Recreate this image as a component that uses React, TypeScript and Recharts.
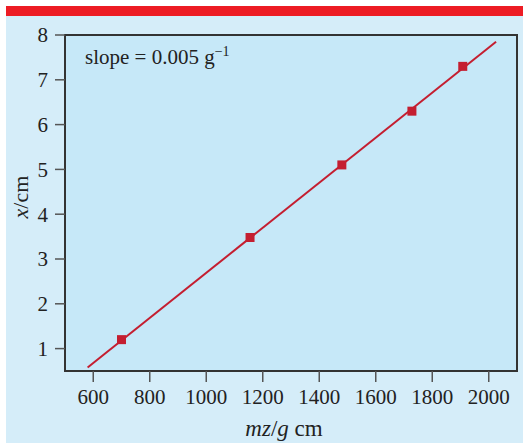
import { ComposedChart, Line, Scatter, XAxis, YAxis, ReferenceArea, Label } from "recharts";

const xTicks = [600, 800, 1000, 1200, 1400, 1600, 1800, 2000];
const yTicks = [1, 2, 3, 4, 5, 6, 7, 8];

const mzg = [700, 1155, 1480, 1728, 1908];
const xcm = [1.2, 3.48, 5.1, 6.3, 7.3];
const fitX = [580, 2026];
const fitY = [0.58, 7.85];

const points = mzg.map((x, i) => ({ x, y: xcm[i] }));
const fit = fitX.map((x, i) => ({ x, fy: fitY[i] }));

const RED = "#c41e30";
const FONT = "'Liberation Serif', 'DejaVu Serif', serif";

function SquareMark(props: any) {
  const { cx, cy } = props;
  if (cx == null || cy == null) return null;
  return <rect x={cx - 4.5} y={cy - 4.5} width={9} height={9} fill={RED} />;
}

function SlopeNote({ viewBox }: any) {
  const { x, y } = viewBox;
  return (
    <text x={x + 20} y={y + 29} fontFamily={FONT} fontSize={21} fill="#222">
      slope = 0.005 g
      <tspan dy={-8} fontSize={14}>−1</tspan>
    </text>
  );
}

function XTitle({ viewBox }: any) {
  const { x, width } = viewBox;
  return (
    <text x={x + width / 2 - 7} y={436} fontFamily={FONT} fontSize={23} fill="#222" textAnchor="middle">
      <tspan fontStyle="italic">mz</tspan>/<tspan fontStyle="italic">g</tspan> cm
    </text>
  );
}

function YTitle() {
  return (
    <text x={28} y={197} fontFamily={FONT} fontSize={22} fill="#222" textAnchor="middle" transform="rotate(-90 28 197)">
      <tspan fontStyle="italic">x</tspan>/cm
    </text>
  );
}

export default function App() {
  return (
    <div style={{ position: "absolute", left: 0, top: 0, width: 523, height: 443, background: "#fff" }}>
      <div style={{ position: "absolute", left: 6, top: 6, width: 517, height: 10, background: "#ed1c24" }} />
      <div style={{ position: "absolute", left: 6, top: 16, width: 517, height: 427, background: "#d5edf9" }} />
      <div style={{ position: "absolute", left: 0, top: 0 }}>
        <ComposedChart width={523} height={443} margin={{ top: 35, right: 6, bottom: 32, left: 0 }}>
          <XAxis
            dataKey="x"
            type="number"
            domain={[500, 2100]}
            ticks={xTicks}
            allowDataOverflow
            height={40}
            axisLine={{ stroke: "#333", strokeWidth: 2 }}
            tickLine={{ stroke: "#555", strokeWidth: 1.5 }}
            tickSize={11}
            tickMargin={7}
            tick={{ fill: "#222", fontSize: 21, fontFamily: FONT }}
          >
            <Label content={<XTitle />} />
          </XAxis>
          <YAxis
            type="number"
            domain={[0.5, 8]}
            ticks={yTicks}
            allowDataOverflow
            width={65}
            axisLine={{ stroke: "#333", strokeWidth: 2 }}
            tickLine={{ stroke: "#555", strokeWidth: 1.5 }}
            tickSize={10}
            tickMargin={7}
            tick={{ fill: "#222", fontSize: 21, fontFamily: FONT }}
          >
            <Label content={<YTitle />} />
          </YAxis>
          <ReferenceArea x1={500} x2={2100} y1={0.5} y2={8} fill="#c6e8f8" fillOpacity={1} stroke="#333" strokeWidth={2}>
            <Label content={<SlopeNote />} />
          </ReferenceArea>
          <Line data={fit} dataKey="fy" stroke={RED} strokeWidth={2} dot={false} isAnimationActive={false} />
          <Scatter data={points} dataKey="y" shape={<SquareMark />} isAnimationActive={false} />
        </ComposedChart>
      </div>
    </div>
  );
}
